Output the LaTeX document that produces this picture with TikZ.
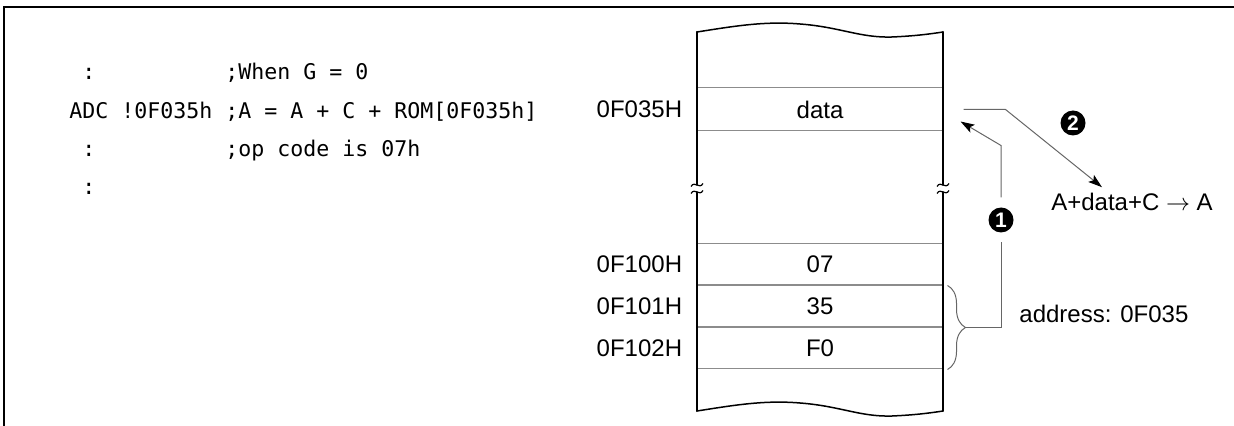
\documentclass[tikz,border=0pt]{standalone}
\usepackage{fontspec}
\setmainfont{Liberation Sans}
\setmonofont{DejaVu Sans Mono}
\usetikzlibrary{positioning, arrows.meta, decorations.pathreplacing}

\definecolor{rowgray}{gray}{0.55}
\definecolor{linkgray}{gray}{0.4}

\begin{document}
\begin{tikzpicture}[
  x=0.5pt, y=-0.5pt,
  font=\fontsize{12}{14}\selectfont,
  code/.style={anchor=base west, inner sep=0pt, font=\fontsize{10.8}{13}\selectfont\ttfamily},
  cell/.style={draw=rowgray, line width=0.5pt, minimum width=123pt, minimum height=20.5pt, inner sep=0pt},
  addr/.style={inner sep=0pt},
  wall/.style={line width=1pt, line cap=round},
  link/.style={draw=linkgray, line width=0.5pt},
  arrowed/.style={-{Stealth[length=7pt, width=4.5pt, inset=1.5pt, color=black]}, draw=linkgray, line width=0.5pt},
  badge/.style={circle, fill=black, text=white, font=\fontsize{10.5}{10.5}\selectfont\bfseries, minimum size=12.5pt, inner sep=0pt}
]
\useasboundingbox (0,0) rectangle (1234,426);

% --- Moldura ---
\draw[line width=1pt] (4,426) -- (4,7.5) -- (1234,7.5);

% --- Programa ---
\node[code] (dotsA) at (82,80) {:};
\node[code] (adc) at (69,118.5) {ADC !0F035h};
\node[code] (dotsB) at (82,157) {:};
\node[code] (dotsC) at (82,195) {:};
\node[code] (cmG) at (225,80) {;When G = 0};
\node[code] (cmAdd) at (225,118.5) {;A = A + C + ROM[0F035h]};
\node[code] (cmOp) at (225,157) {;op code is 07h};

% --- Celulas da memoria ---
\node[cell, minimum height=21.5pt] (data) at (820,109.5) {data};
\node[cell] (r07) at (820,264.5) {07};
\node[cell, below=0pt of r07] (r35) {35};
\node[cell, below=0pt of r35] (rF0) {F0};

% --- Enderecos ---
\node[addr, left=7pt of data] (aData) {0F035H};
\node[addr, left=7pt of r07] (a07) {0F100H};
\node[addr, left=7pt of r35] (a35) {0F101H};
\node[addr, left=7pt of rF0] (aF0) {0F102H};

% --- Contorno da memoria ---
\draw[wall, line width=0.75pt] (697,32) .. controls (735,26) and (765,21) .. (800,24)
  .. controls (840,27) and (860,38) .. (892,37) .. controls (915,36) and (930,34) .. (943,32);
\draw[wall, line width=0.75pt] (697,411) .. controls (735,405) and (765,400) .. (800,403)
  .. controls (840,406) and (860,417) .. (892,416) .. controls (915,415) and (930,413) .. (943,411);
\draw[wall] (697,32) -- (697,185) (697,192) -- (697,411)
  (943,32) -- (943,185) (943,192) -- (943,411);
\foreach \xx in {697,943}
  \foreach \yy in {185,192}
    \draw[line width=0.6pt] (\xx-6,\yy+1.5) .. controls (\xx-2,\yy-5) and (\xx+2,\yy+5) .. (\xx+6,\yy-1.5);

% --- Chave e endereco ---
\draw[link, decorate, decoration={brace, amplitude=9pt}]
  ([xshift=2pt]r35.north east) -- ([xshift=2pt]rF0.south east);
\coordinate (btip) at ([xshift=11pt]r35.south east);
\node[anchor=base west, inner sep=0pt] (addrtxt) at (1019,323) {address: 0F035};

% --- Passo 1 ---
\node[badge, outer sep=5pt] (n1) at (1001,220) {1};
\draw[link] (btip) -| (n1.south);
\draw[arrowed] (n1.north) -- ++(0,-52) -- ([xshift=8.5pt,yshift=5pt]data.south east);

% --- Passo 2 ---
\node[badge] (n2) at (1073,123) {2};
\node[anchor=base, inner sep=0pt] (res) at (1132,211) {A+data+C $\rightarrow$ A};
\draw[arrowed] ([xshift=10pt]data.east) -- ++(42,0) -- ([xshift=-15pt,yshift=3pt]res.north);

\end{tikzpicture}
\end{document}
